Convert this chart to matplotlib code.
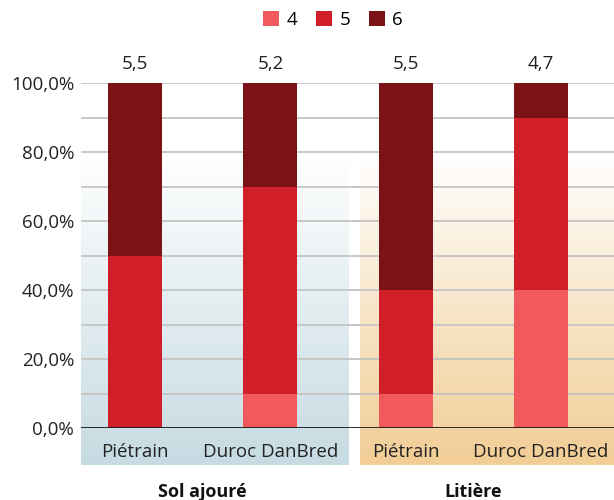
import numpy as np
import matplotlib
matplotlib.use('Agg')
import matplotlib.pyplot as plt
from matplotlib.colors import LinearSegmentedColormap
from matplotlib.patches import Patch

plt.rcParams['font.family'] = ['Open Sans', 'DejaVu Sans']

# ----------------------------------------------------------------------
# Data
# ----------------------------------------------------------------------
categories = ['Piétrain', 'Duroc DanBred', 'Piétrain', 'Duroc DanBred']
groups = ['Sol ajouré', 'Litière']
series_names = ['4', '5', '6']
share_4 = [0, 10, 10, 40]
share_5 = [50, 60, 30, 50]
share_6 = [50, 30, 60, 10]
means = ['5,5', '5,2', '5,5', '4,7']

colors = ['#f05a5c', '#d11f29', '#7b1215']

# ----------------------------------------------------------------------
fig = plt.figure(figsize=(6.14, 5.0), dpi=100)
ax = fig.add_axes([81 / 614, 72 / 500, 533 / 614, 345 / 500])
ax.set_facecolor('none')

x = np.arange(len(categories))
xmin, xmax = -0.4, 3.54
FS = 13.5

# gradient panels behind the bars (extend below the axis into the label area)
y_top, y_bot = 80, -10.7
grad = np.linspace(0, 1, 256).reshape(-1, 1)
panels = [(xmin, 1.574, '#c6dbe2'), (1.663, xmax, '#f2cd95')]
for x0, x1, col in panels:
    cmap = LinearSegmentedColormap.from_list('g', ['#ffffff', col])
    ax.imshow(grad, cmap=cmap, aspect='auto', origin='upper',
              extent=(x0, x1, y_bot, y_top), zorder=0, clip_on=False,
              interpolation='bilinear')
ax.set_xlim(xmin, xmax)
ax.set_ylim(0, 100)

# grid lines every 10 %
for yv in range(10, 101, 10):
    ax.axhline(yv, color='#c4c4c4', lw=1.3, zorder=1)
ax.axhline(0, color='#1a1a1a', lw=1.3, zorder=3)

width = 0.4
bottom = np.zeros(len(categories))
for vals, col, name in zip([share_4, share_5, share_6], colors, series_names):
    ax.bar(x, vals, width, bottom=bottom, color=col, zorder=2, label=name)
    bottom += np.array(vals)

for xi, m in zip(x, means):
    ax.text(xi, 103, m, ha='center', va='bottom', fontsize=FS, color='#222222')

ax.set_yticks(range(0, 101, 20))
ax.set_yticklabels([f'{v},0%' for v in range(0, 101, 20)], fontsize=FS, color='#222222')
ax.tick_params(axis='y', length=0, pad=5)
ax.set_xticks(x)
ax.set_xticklabels(categories, fontsize=FS, color='#222222')
ax.tick_params(axis='x', length=0, pad=11)
for s in ax.spines.values():
    s.set_visible(False)

# group labels
for gx, g in zip([0.5, 2.5], groups):
    ax.text(gx, -18.5, g, ha='center', va='center', fontsize=FS - 0.5,
            fontweight='bold', color='#111111')

handles = [Patch(facecolor=c, edgecolor='none') for c in colors]
fig.legend(handles, series_names, loc='center', bbox_to_anchor=(333 / 614, 1 - 20 / 500),
           ncol=3, frameon=False, fontsize=FS, handlelength=0.85, handleheight=0.85,
           handletextpad=0.4, columnspacing=1.0)

fig.savefig('out.png', dpi=100)
